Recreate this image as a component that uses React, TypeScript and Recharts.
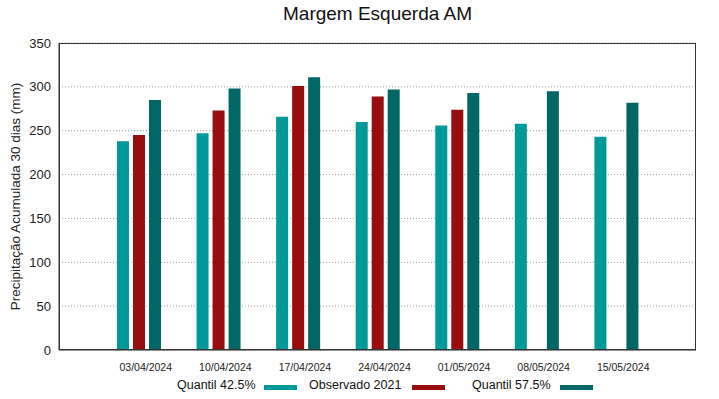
import React from "react";
import { BarChart, Bar, XAxis, YAxis, CartesianGrid } from "recharts";

const dates = ["03/04/2024", "10/04/2024", "17/04/2024", "24/04/2024", "01/05/2024", "08/05/2024", "15/05/2024"];
const q425 = [238, 247, 266, 260, 256, 258, 243];
const obs2021: (number | null)[] = [245, 273, 301, 289, 274, null, null];
const q575 = [285, 298, 311, 297, 293, 295, 282];
const yTicks = [0, 50, 100, 150, 200, 250, 300, 350];

const data = dates.map((d, i) => ({ date: d, q425: q425[i], obs: obs2021[i], q575: q575[i] }));

const C1 = "#009999";
const C2 = "#980e0e";
const C3 = "#006666";
const FONT = "'Liberation Sans', Arial, sans-serif";

const XTick = (props: any) => {
  const { x, y, payload } = props;
  return (
    <text x={x + 7} y={y + 13} textAnchor="middle" fontSize={10.5} fill="#222" fontFamily={FONT}>
      {payload.value}
    </text>
  );
};

const legendItems = [
  { label: "Quantil 42.5%", color: C1, tx: 177, rx: 264 },
  { label: "Observado 2021", color: C2, tx: 309, rx: 412 },
  { label: "Quantil 57.5%", color: C3, tx: 472, rx: 560 },
];

export default function App() {
  return (
    <div style={{ position: "absolute", left: 0, top: 0, width: 719, height: 399, background: "#fff", fontFamily: FONT }}>
      <BarChart
        width={719}
        height={399}
        data={data}
        margin={{ top: 43, right: 23, left: 0, bottom: 29 }}
        barSize={12}
        barGap={4}
      >
        <CartesianGrid vertical={false} stroke="#999" strokeDasharray="1 2" />
        <XAxis
          dataKey="date"
          height={20}
          padding={{ left: 40, right: 40 }}
          axisLine={{ stroke: "#333" }}
          tickLine={false}
          tick={<XTick />}
          interval={0}
        />
        <YAxis
          width={59}
          domain={[0, 350]}
          ticks={yTicks}
          interval={0}
          axisLine={{ stroke: "#333" }}
          tickLine={false}
          tick={{ fontSize: 13, fill: "#222", fontFamily: FONT }}
          label={{
            value: "Precipitação Acumulada 30 dias (mm)",
            angle: -90,
            position: "insideLeft",
            dx: 10,
            dy: 0,
            style: { textAnchor: "middle", fontSize: 13.5, fill: "#222", fontFamily: FONT },
          }}
        />
        <Bar dataKey="q425" fill={C1} isAnimationActive={false} />
        <Bar dataKey="obs" fill={C2} isAnimationActive={false} />
        <Bar dataKey="q575" fill={C3} isAnimationActive={false} />
      </BarChart>
      <div
        style={{
          position: "absolute",
          left: 59,
          top: 43,
          width: 637,
          height: 307,
          border: "1px solid #333",
          boxSizing: "border-box",
          pointerEvents: "none",
        }}
      />
      <div style={{ position: "absolute", left: 0, top: 3, width: 755, textAlign: "center", fontSize: 19, color: "#111" }}>
        Margem Esquerda AM
      </div>
      {legendItems.map((it) => (
        <React.Fragment key={it.label}>
          <div style={{ position: "absolute", left: it.tx, top: 378, fontSize: 12.5, color: "#111", whiteSpace: "nowrap" }}>{it.label}</div>
          <div style={{ position: "absolute", left: it.rx, top: 385, width: 33, height: 5, background: it.color }} />
        </React.Fragment>
      ))}
    </div>
  );
}
